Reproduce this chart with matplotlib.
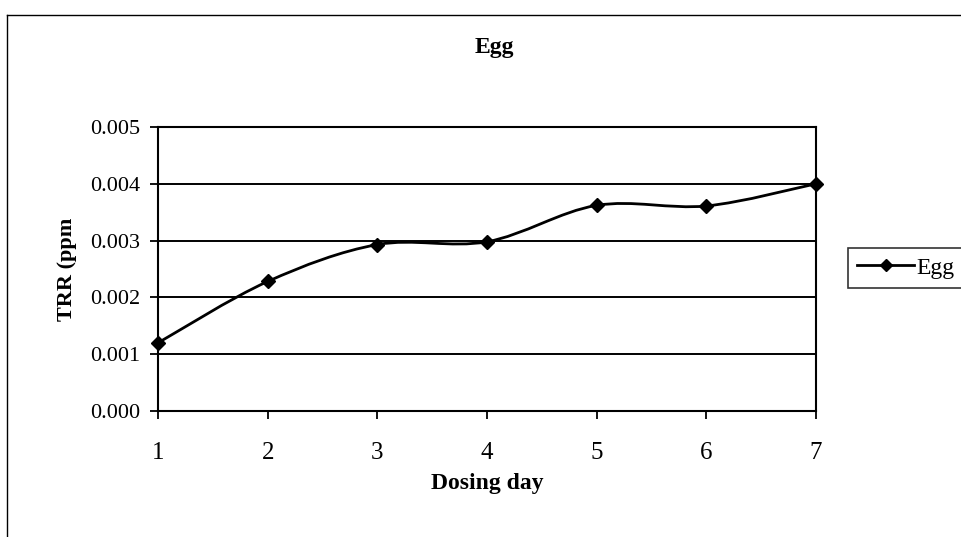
import numpy as np
import matplotlib
matplotlib.use("Agg")
import matplotlib.pyplot as plt
from matplotlib.lines import Line2D
from matplotlib.path import Path
from matplotlib.patches import PathPatch

plt.rcParams['font.family'] = ['Liberation Serif', 'DejaVu Serif']

days = [1, 2, 3, 4, 5, 6, 7]
trr = [0.0012, 0.00228, 0.00293, 0.00298, 0.00362, 0.00361, 0.0040]
y_ticks = [0.000, 0.001, 0.002, 0.003, 0.004, 0.005]
series_name = "Egg"

W, H = 962, 537
fig = plt.figure(figsize=(W / 100, H / 100), dpi=100)
ax = fig.add_axes([158 / W, 1 - 411 / H, (816 - 158) / W, (411 - 127) / H])

# Smoothed line through the points (Bezier segments, spreadsheet-style)
x = np.array(days, dtype=float)
y = np.array(trr, dtype=float)
verts = [(x[0], y[0])]
codes = [Path.MOVETO]
n = len(x)
for i in range(n - 1):
    p0 = np.array([x[i - 1], y[i - 1]]) if i > 0 else np.array([x[i], y[i]])
    p1 = np.array([x[i], y[i]])
    p2 = np.array([x[i + 1], y[i + 1]])
    p3 = np.array([x[i + 2], y[i + 2]]) if i + 2 < n else p2
    c1 = p1 + (p2 - p0) / 6.0
    c2 = p2 - (p3 - p1) / 6.0
    verts += [tuple(c1), tuple(c2), tuple(p2)]
    codes += [Path.CURVE4] * 3
ax.add_patch(PathPatch(Path(verts, codes), facecolor='none', edgecolor='black',
                       lw=2.0, zorder=3, clip_on=False))
ax.plot(days, trr, linestyle='none', marker='D', ms=7.5, color='black',
        zorder=4, clip_on=False)

ax.set_xlim(1, 7)
ax.set_ylim(0, 0.005)
ax.set_xticks(days)
ax.set_yticks(y_ticks)
ax.set_yticklabels([f"{v:.3f}" for v in y_ticks])
ax.grid(axis='y', color='black', lw=1.4)
ax.set_axisbelow(True)
for s in ax.spines.values():
    s.set_linewidth(1.5)
ax.tick_params(axis='both', width=1.3, length=6, colors='black')
ax.tick_params(axis='x', labelsize=18, pad=16)
ax.tick_params(axis='y', labelsize=16, pad=7)

ax.set_xlabel("Dosing day", fontsize=17, fontweight='bold', labelpad=7)
ax.set_ylabel("TRR (ppm", fontsize=16, fontweight='bold', labelpad=9)
fig.text(494 / W, 1 - 47 / H, "Egg", ha='center', va='center', fontsize=17,
         fontweight='bold')

# Legend box
leg_handle = Line2D([], [], color='black', lw=2.0, marker='D', ms=6.5)
leg = fig.legend([leg_handle], [series_name], loc='center left',
                 bbox_to_anchor=(848 / W, 1 - 268 / H), fontsize=17,
                 frameon=True, fancybox=False, edgecolor='black',
                 borderpad=0.4, handlelength=2.4, handletextpad=0.1,
                 borderaxespad=0)
leg.get_frame().set_linewidth(1.2)

# Outer chart frame
fig.add_artist(Line2D([7 / W, 7 / W], [0, 1 - 15 / H], color='black', lw=1.0))
fig.add_artist(Line2D([7 / W, 1], [1 - 15 / H, 1 - 15 / H], color='black', lw=1.0))

fig.savefig("out.png", dpi=100)
